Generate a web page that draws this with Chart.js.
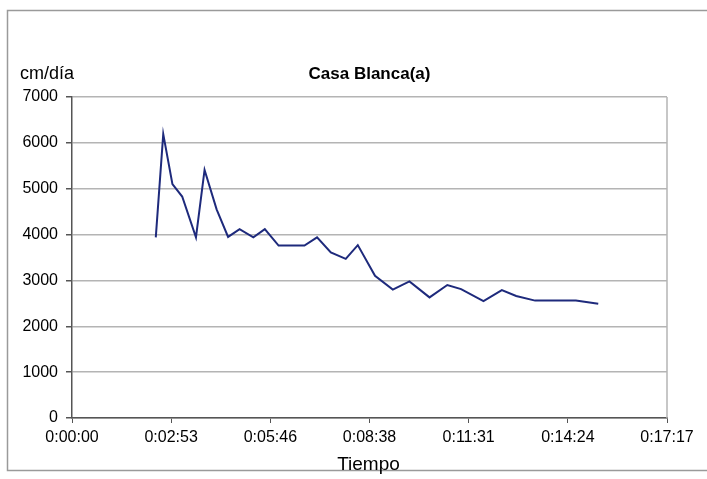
<!DOCTYPE html>
<html>
<head>
<meta charset="utf-8">
<script src="https://cdn.jsdelivr.net/npm/chart.js@4/dist/chart.umd.min.js"></script>
<style>
  html, body { margin: 0; padding: 0; background: #fff; }
  #wrap { width: 707px; height: 479px; }
</style>
</head>
<body>
<div id="wrap"><canvas id="velChart" width="707" height="479"></canvas></div>
<script>
// Mediciones: tiempo transcurrido (s) y velocidad (cm/día)
const tiempoSeg = [146, 159, 175, 192, 216, 231, 252, 272, 292, 316, 336, 360, 405, 427, 451,
                   477, 498, 528, 559, 588, 623, 654, 678, 717, 749, 774, 807, 878, 917];
const velocidad = [3940, 6190, 5100, 4830, 3940, 5410, 4550, 3950, 4120, 3940, 4120, 3760, 3760, 3940, 3610,
                   3470, 3770, 3100, 2800, 2980, 2630, 2900, 2810, 2550, 2790, 2660, 2560, 2560, 2490];

// Marcas del eje X (pasos de 0.002 días = 172.8 s) y del eje Y
const ticksX = [0, 172.8, 345.6, 518.4, 691.2, 864, 1036.8];
const ticksY = [0, 1000, 2000, 3000, 4000, 5000, 6000, 7000];

const titulo = 'Casa Blanca(a)';
const unidadY = 'cm/día';
const tituloX = 'Tiempo';

const FONT = '"Liberation Sans", Arial, sans-serif';

function aReloj(s) {
  const t = Math.round(s);
  const h = Math.floor(t / 3600);
  const m = Math.floor((t % 3600) / 60);
  const sec = t % 60;
  return h + ':' + String(m).padStart(2, '0') + ':' + String(sec).padStart(2, '0');
}

// fondo, marco exterior y textos
const decoracion = {
  id: 'decoracion',
  beforeDraw(chart) {
    const c = chart.ctx;
    c.save();
    c.fillStyle = '#fff';
    c.fillRect(0, 0, chart.width, chart.height);
    c.restore();
  },
  beforeDatasetsDraw(chart) {
    // borde derecho del área de trazado
    const c = chart.ctx, a = chart.chartArea;
    c.save();
    c.strokeStyle = '#b4b4b4';
    c.lineWidth = 1.5;
    c.beginPath();
    c.moveTo(a.right, a.top);
    c.lineTo(a.right, a.bottom);
    c.stroke();
    c.restore();
  },
  afterDraw(chart) {
    const c = chart.ctx;
    const a = chart.chartArea;
    c.save();
    c.strokeStyle = '#9a9a9a';
    c.lineWidth = 1.5;
    c.strokeRect(7.5, 10.5, 710, 460);

    c.fillStyle = '#000';
    c.textBaseline = 'alphabetic';
    c.font = 'bold 17px ' + FONT;
    c.textAlign = 'center';
    c.fillText(titulo, (a.left + a.right) / 2, 79);

    c.font = '18px ' + FONT;
    c.textAlign = 'left';
    c.fillText(unidadY, 20, 79);

    c.font = '19px ' + FONT;
    c.textAlign = 'center';
    c.fillText(tituloX, (a.left + a.right) / 2 - 1, 470);
    c.restore();
  }
};

new Chart(document.getElementById('velChart'), {
  type: 'line',
  data: {
    datasets: [{
      data: tiempoSeg.map((t, i) => ({ x: t, y: velocidad[i] })),
      borderColor: '#1e2a7c',
      borderWidth: 2,
      pointRadius: 0,
      tension: 0,
      fill: false
    }]
  },
  options: {
    responsive: false,
    animation: false,
    layout: { padding: { top: 97, right: 40, bottom: 0, left: 0 } },
    plugins: {
      legend: { display: false },
      tooltip: { enabled: false },
      title: { display: false }
    },
    scales: {
      x: {
        type: 'linear',
        min: 0,
        max: 1036.8,
        afterBuildTicks: s => { s.ticks = ticksX.map(v => ({ value: v })); },
        afterFit: s => { s.height = 61; },
        grid: { display: true, drawOnChartArea: false, tickLength: 5, tickColor: '#555' },
        border: { color: '#555', width: 1.5 },
        ticks: {
          color: '#000',
          padding: 5,
          maxRotation: 0,
          autoSkip: false,
          font: { family: FONT, size: 16 },
          callback: v => aReloj(v)
        }
      },
      y: {
        min: 0,
        max: 7000,
        afterBuildTicks: s => { s.ticks = ticksY.map(v => ({ value: v })); },
        afterFit: s => { s.width = 72; },
        grid: { color: '#b4b4b4', lineWidth: 1.5, tickLength: 6, tickColor: '#555' },
        border: { color: '#555', width: 1.5 },
        ticks: {
          color: '#000',
          padding: 8,
          font: { family: FONT, size: 16 },
          callback: v => String(v)
        }
      }
    }
  },
  plugins: [decoracion]
});
</script>
</body>
</html>
